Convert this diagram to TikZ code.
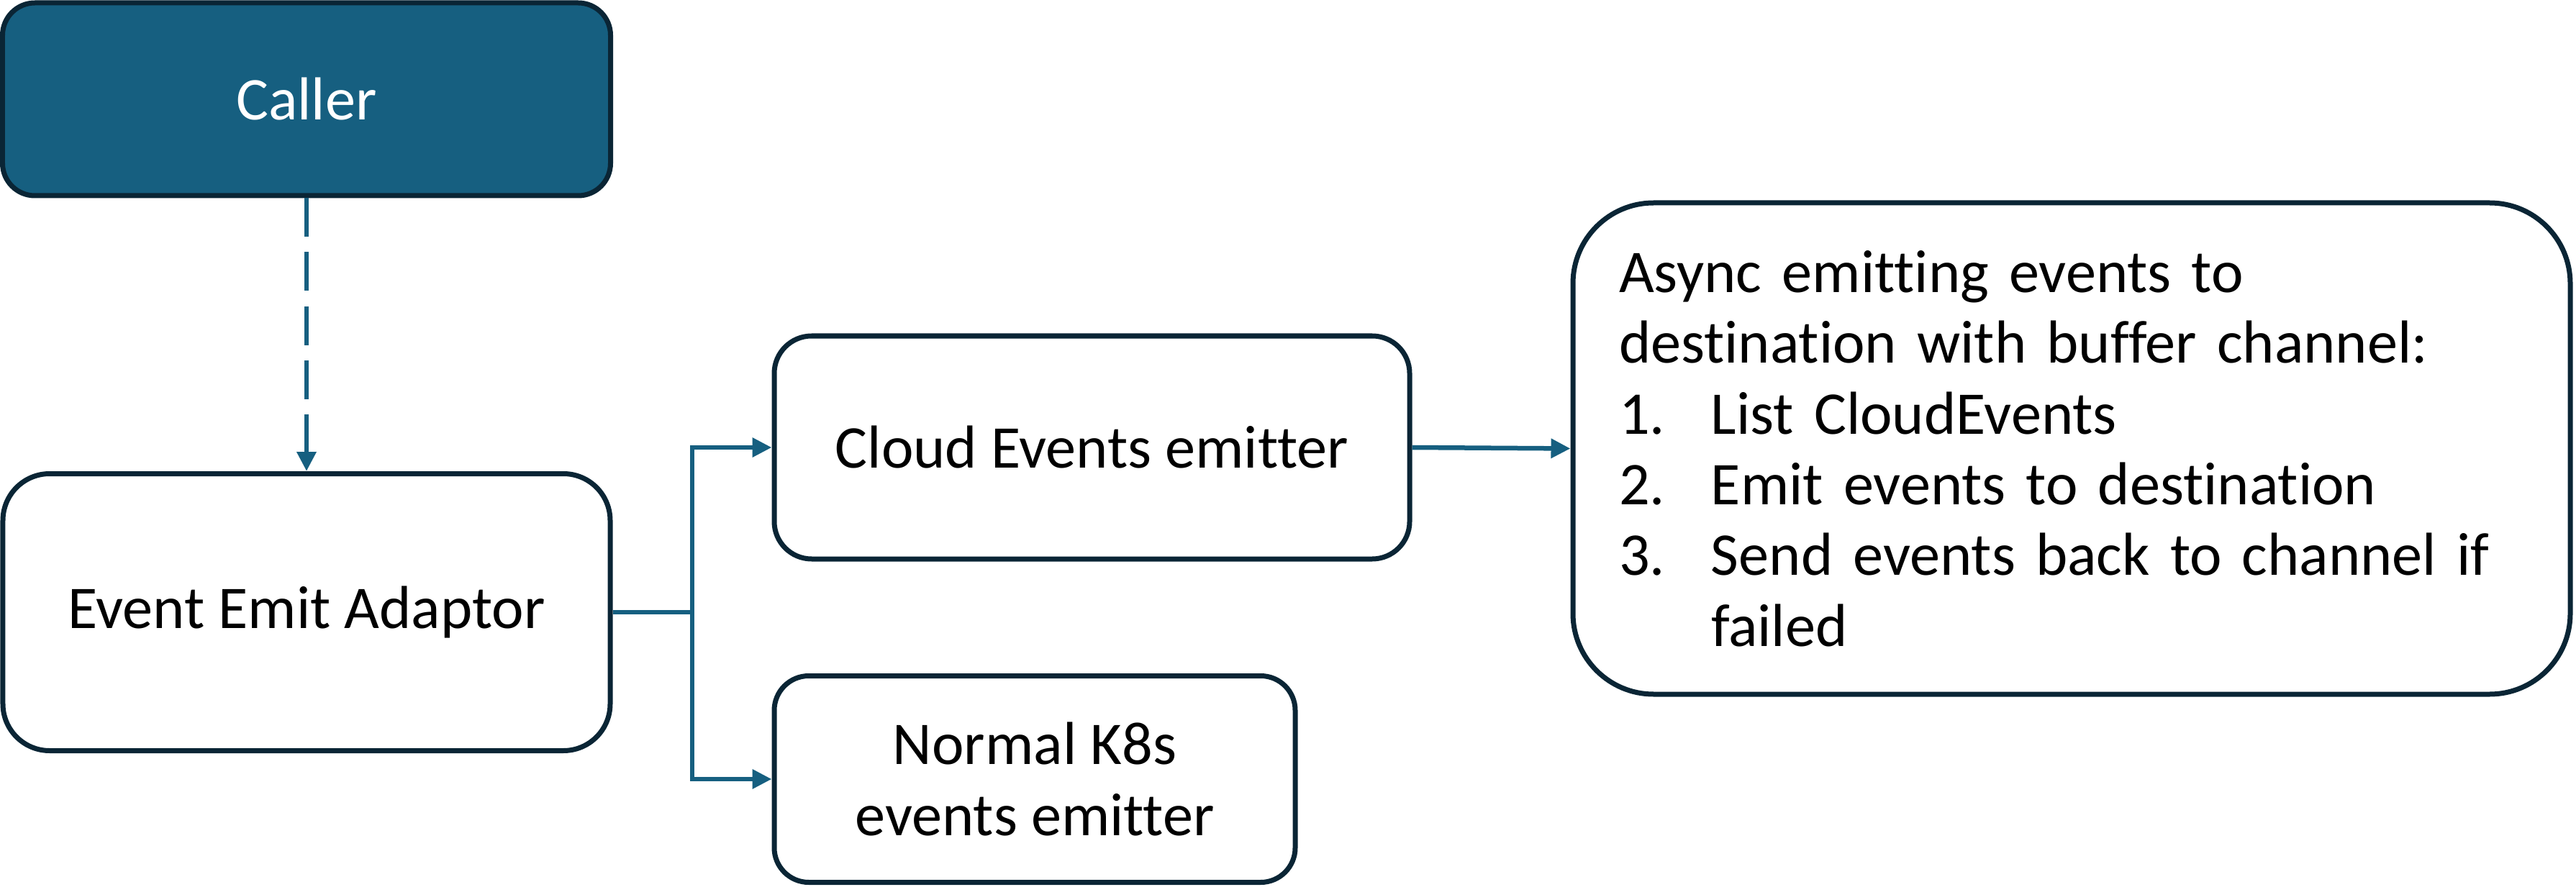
\documentclass[tikz,border=0pt]{standalone}
\usepackage{fontspec}
\setmainfont{Carlito}[Ligatures=NoCommon]
\usetikzlibrary{arrows.meta}
\definecolor{boxline}{HTML}{0A2535}
\definecolor{callerblue}{HTML}{165F80}
\begin{document}
\begin{tikzpicture}[
  box/.style={draw=boxline,line width=0.07cm,rounded corners=#1,inner sep=0pt,font=\fontsize{24}{28}\selectfont},
  box/.default=0.5cm,
  link/.style={draw=callerblue,line width=0.065cm},
  flow/.style={link,-{Triangle[width=0.26cm,length=0.27cm]}}]
\useasboundingbox(0,0)rectangle(35.8,-12.33);
\node[box=0.45cm,fill=callerblue,text=white,minimum width=8.45cm,minimum height=2.68cm](caller)at(4.26,-1.38){Caller};
\node[box=0.65cm,minimum width=8.44cm,minimum height=3.85cm](adaptor)at(4.26,-8.51){Event Emit Adaptor};
\node[box=0.52cm,minimum width=8.83cm,minimum height=3.1cm](cloud)at(15.175,-6.22){Cloud Events emitter};
\node[box=0.48cm,minimum width=7.24cm,minimum height=2.87cm,align=center](normal)at(14.38,-10.83){Normal K8s\\events emitter};
\node[box=1.12cm,minimum width=13.86cm,minimum height=6.83cm,text width=12.58cm,align=left](async)at(28.79,-6.235){Async emitting events to\\destination with buffer channel:\\\makebox[1.28cm][l]{1.}List CloudEvents\\\makebox[1.28cm][l]{2.}Emit events to destination\\\makebox[1.28cm][l]{3.}Send events back to channel if\\\hspace*{1.28cm}failed};
\coordinate(fork)at(9.62,-8.51);
\draw[flow,dash pattern=on 0.54cm off 0.21cm](caller.south)--(adaptor.north);
\draw[link](adaptor.east)--(fork);
\draw[flow](fork)|-(cloud.west);
\draw[flow](fork)|-(normal.west);
\draw[flow](cloud.east)--(async.west);
\end{tikzpicture}
\end{document}
